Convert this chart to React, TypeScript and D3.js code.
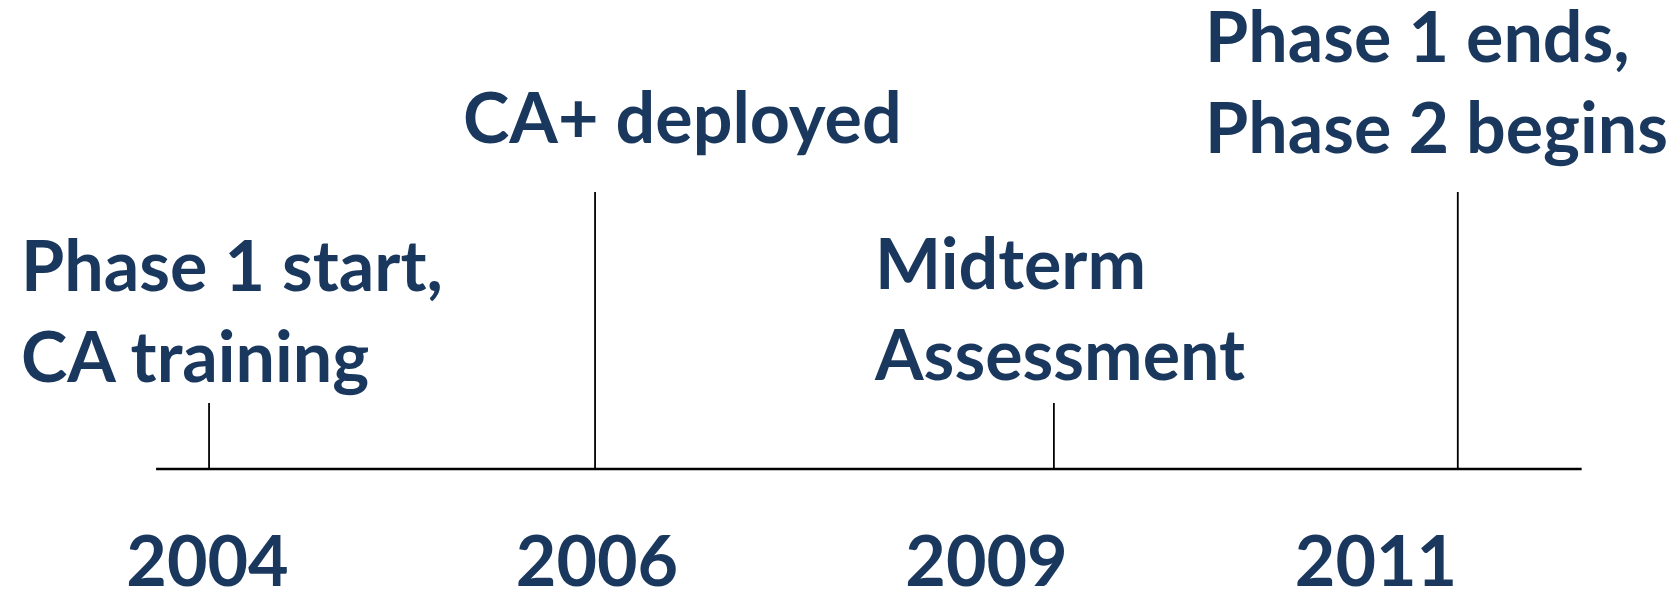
import React, { useRef, useEffect } from "react";
import { select, scaleLinear } from "d3";

// year labels under the line, evenly spaced
const years = ["2004", "2006", "2009", "2011"];

// milestones
const eventLabels = [
  ["Phase 1 start,", "CA training"],
  ["CA+ deployed"],
  ["Midterm", "Assessment"],
  ["Phase 1 ends,", "Phase 2 begins"],
];
// where each milestone sits on the line, in year-slot units (0 = first year label)
const eventPos = [0.004, 0.995, 2.173, 3.21];
// 1 = short marker, 2 = tall marker
const eventLevel = [1, 2, 1, 2];

// extent of the timeline, same units as eventPos
const lineExtent = [-0.132, 3.528];

// label placement (layout only)
const labelLeft = [21, 463, 875, 1205];
const labelLastBaseline = [382, 143, 380, 153];

const W = 1672;
const H = 591;
const navy = "#1a385e";
const font = "Lato, 'Open Sans', sans-serif";

const Timeline = () => {
  const svgRef = useRef<SVGSVGElement>(null);

  useEffect(() => {
    const svg = select(svgRef.current);
    svg.selectAll("*").remove();

    const x = scaleLinear().domain([0, 3]).range([207.5, 1376]);
    // marker level -> y of marker top (piecewise)
    const y = scaleLinear().domain([0, 1, 2]).range([469, 403, 192]);

    svg.append("rect").attr("width", W).attr("height", H).attr("fill", "#fff");

    // the timeline itself
    svg
      .append("line")
      .attr("x1", x(lineExtent[0]))
      .attr("x2", x(lineExtent[1]))
      .attr("y1", y(0))
      .attr("y2", y(0))
      .attr("stroke", "#000")
      .attr("stroke-width", 2.5);

    // markers
    svg
      .selectAll(".marker")
      .data(eventPos)
      .join("line")
      .attr("class", "marker")
      .attr("x1", d => x(d))
      .attr("x2", d => x(d))
      .attr("y1", (d, i) => y(eventLevel[i]))
      .attr("y2", y(0))
      .attr("stroke", "#000")
      .attr("stroke-width", 1.8);

    // year labels
    svg
      .selectAll(".year")
      .data(years)
      .join("text")
      .attr("class", "year")
      .attr("x", (d, i) => x(i))
      .attr("y", 586)
      .attr("text-anchor", "middle")
      .attr("font-family", font)
      .attr("font-weight", 700)
      .attr("font-size", 70)
      .attr("fill", navy)
      .text(d => d);

    // milestone labels
    const lineGap = 91;
    const groups = svg
      .selectAll(".label")
      .data(eventLabels)
      .join("text")
      .attr("class", "label")
      .attr("font-family", font)
      .attr("font-weight", 700)
      .attr("font-size", 70)
      .attr("fill", navy);

    groups.each(function (lines, i) {
      const t = select(this);
      const first = labelLastBaseline[i] - (lines.length - 1) * lineGap;
      lines.forEach((s, j) => {
        t.append("tspan")
          .attr("x", labelLeft[i])
          .attr("y", first + j * lineGap)
          .text(s);
      });
    });
  }, []);

  return (
    <svg
      ref={svgRef}
      width={W}
      height={H}
      style={{ position: "absolute", left: 0, top: 0, display: "block" }}
    />
  );
};

export default function App() {
  return <Timeline />;
}
